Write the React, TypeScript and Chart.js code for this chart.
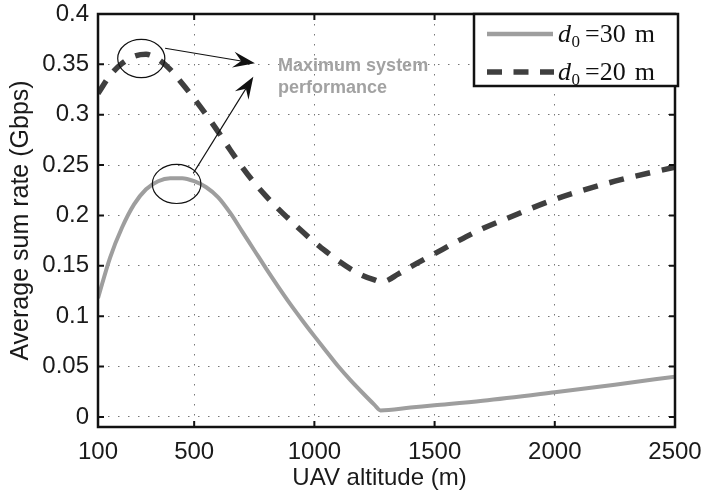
import React, { useEffect, useRef } from 'react';
import { Chart, registerables } from 'chart.js';

Chart.register(...registerables);

// ---- data ----
const altitudes30 = [100, 150, 200, 250, 300, 350, 400, 450, 500, 550, 600, 650, 700, 750, 800, 850, 900, 950, 1000, 1050, 1100, 1150, 1200, 1250, 1275, 1400, 1500, 1700, 2000, 2250, 2500];
const rate30 = [0.118, 0.158, 0.188, 0.211, 0.226, 0.234, 0.237, 0.237, 0.234, 0.228, 0.218, 0.2025, 0.184, 0.1655, 0.147, 0.1292, 0.112, 0.0958, 0.0802, 0.065, 0.050, 0.0365, 0.024, 0.012, 0.0065, 0.0093, 0.0115, 0.016, 0.0245, 0.032, 0.040];

const altitudes20 = [100, 150, 200, 250, 300, 350, 400, 450, 500, 550, 600, 650, 700, 750, 800, 850, 900, 950, 1000, 1050, 1100, 1150, 1200, 1250, 1280, 1350, 1400, 1500, 1600, 1700, 1800, 2000, 2250, 2500];
const rate20 = [0.321, 0.339, 0.351, 0.358, 0.360, 0.355, 0.345, 0.331, 0.316, 0.300, 0.283, 0.265, 0.248, 0.2325, 0.219, 0.2065, 0.195, 0.184, 0.1735, 0.164, 0.155, 0.147, 0.1405, 0.136, 0.134, 0.142, 0.149, 0.162, 0.175, 0.187, 0.197, 0.216, 0.234, 0.248];

const xTicks = [100, 500, 1000, 1500, 2000, 2500];
const yTicks = [0, 0.05, 0.1, 0.15, 0.2, 0.25, 0.3, 0.35, 0.4];

const seriesLabels = ['30', '20'];
const xTitle = 'UAV altitude (m)';
const yTitle = 'Average sum rate (Gbps)';
const noteLines = ['Maximum system', 'performance'];

// annotation anchors in data space
const ellipseCenters = [[280, 0.3558], [427, 0.2313]];
const ellipseRadii = [[98, 0.019], [101, 0.0194]];
const arrowStarts = [[379, 0.366], [496, 0.2418]];
const arrowEnds = [[753, 0.351], [746, 0.3377]];
const noteAnchor = [849, 0.3433];

const GRAY = '#9e9e9e';
const DARK = '#3f3f3f';
const NOTE = '#a2a2a2';
const SANS = '"Liberation Sans", Arial, Helvetica, sans-serif';
const SERIF = '"Liberation Serif", "Times New Roman", serif';

function drawArrow(ctx: CanvasRenderingContext2D, x1: number, y1: number, x2: number, y2: number) {
  const ang = Math.atan2(y2 - y1, x2 - x1);
  const c = Math.cos(ang), s = Math.sin(ang);
  const L = 22, W = 8, N = 14;
  ctx.beginPath();
  ctx.moveTo(x1, y1);
  ctx.lineTo(x2 - N * c, y2 - N * s);
  ctx.stroke();
  ctx.beginPath();
  ctx.moveTo(x2, y2);
  ctx.lineTo(x2 - L * c - W * s, y2 - L * s + W * c);
  ctx.lineTo(x2 - N * c, y2 - N * s);
  ctx.lineTo(x2 - L * c + W * s, y2 - L * s - W * c);
  ctx.closePath();
  ctx.fill();
}

const decor = {
  id: 'decor',
  afterDraw(chart: any) {
    const { ctx, chartArea: a } = chart;
    const xs = chart.scales.x, ys = chart.scales.y;
    ctx.save();

    // ellipses
    ctx.strokeStyle = '#111';
    ctx.lineWidth = 1.2;
    ellipseCenters.forEach((c, i) => {
      const cx = xs.getPixelForValue(c[0]);
      const cy = ys.getPixelForValue(c[1]);
      const rx = Math.abs(xs.getPixelForValue(c[0] + ellipseRadii[i][0]) - cx);
      const ry = Math.abs(ys.getPixelForValue(c[1] + ellipseRadii[i][1]) - cy);
      ctx.beginPath();
      ctx.ellipse(cx, cy, rx, ry, 0, 0, Math.PI * 2);
      ctx.stroke();
    });

    // arrows
    ctx.fillStyle = '#111';
    ctx.lineWidth = 1.1;
    arrowStarts.forEach((p, i) => {
      drawArrow(ctx,
        xs.getPixelForValue(p[0]), ys.getPixelForValue(p[1]),
        xs.getPixelForValue(arrowEnds[i][0]), ys.getPixelForValue(arrowEnds[i][1]));
    });

    // note text
    ctx.fillStyle = NOTE;
    ctx.font = `bold 18px ${SANS}`;
    ctx.textAlign = 'left';
    ctx.textBaseline = 'alphabetic';
    const nx = xs.getPixelForValue(noteAnchor[0]);
    const ny = ys.getPixelForValue(noteAnchor[1]);
    noteLines.forEach((t, i) => ctx.fillText(t, nx, ny + i * 22));

    // frame
    ctx.strokeStyle = '#111';
    ctx.lineWidth = 2.5;
    ctx.strokeRect(a.left, a.top, a.right - a.left, a.bottom - a.top);

    // inward ticks
    ctx.lineWidth = 2;
    ctx.beginPath();
    xTicks.forEach((v) => {
      const px = xs.getPixelForValue(v);
      ctx.moveTo(px, a.bottom); ctx.lineTo(px, a.bottom - 6);
      ctx.moveTo(px, a.top); ctx.lineTo(px, a.top + 6);
    });
    yTicks.forEach((v) => {
      const py = ys.getPixelForValue(v);
      ctx.moveTo(a.left, py); ctx.lineTo(a.left + 6, py);
      ctx.moveTo(a.right, py); ctx.lineTo(a.right - 6, py);
    });
    ctx.stroke();

    // legend
    const lx = a.right - 201, ly = a.top, lw = 204, lh = 72;
    ctx.fillStyle = '#fff';
    ctx.fillRect(lx, ly, lw, lh);
    ctx.strokeStyle = '#111';
    ctx.lineWidth = 2.5;
    ctx.strokeRect(lx, ly, lw, lh);
    const rows = [ly + 20, ly + 58];
    ctx.lineCap = 'butt';
    ctx.strokeStyle = GRAY; ctx.lineWidth = 4.5; ctx.setLineDash([]);
    ctx.beginPath(); ctx.moveTo(lx + 13, rows[0]); ctx.lineTo(lx + 79, rows[0]); ctx.stroke();
    ctx.strokeStyle = DARK; ctx.lineWidth = 5.5; ctx.setLineDash([15, 11.5]);
    ctx.beginPath(); ctx.moveTo(lx + 13, rows[1]); ctx.lineTo(lx + 80, rows[1]); ctx.stroke();
    ctx.setLineDash([]);
    ctx.fillStyle = '#111';
    rows.forEach((ry, i) => {
      const base = ry + 8;
      let tx = lx + 84;
      ctx.font = `italic 26px ${SERIF}`;
      ctx.fillText('d', tx, base);
      tx += ctx.measureText('d').width + 0.5;
      ctx.font = `17px ${SERIF}`;
      ctx.fillText('0', tx, base + 5);
      tx += ctx.measureText('0').width + 5;
      ctx.font = `26px ${SERIF}`;
      ctx.fillText('=' + seriesLabels[i], tx, base);
      tx += ctx.measureText('=' + seriesLabels[i]).width + 9;
      ctx.fillText('m', tx, base);
    });

    // axis titles
    ctx.fillStyle = '#1a1a1a';
    ctx.font = `24px ${SANS}`;
    ctx.textAlign = 'center';
    ctx.textBaseline = 'alphabetic';
    ctx.fillText(xTitle, (a.left + a.right) / 2 - 7, 485);
    ctx.save();
    ctx.translate(28, (a.top + a.bottom) / 2);
    ctx.rotate(-Math.PI / 2);
    ctx.font = `25px ${SANS}`;
    ctx.fillText(yTitle, 0, 0);
    ctx.restore();

    ctx.restore();
  },
};

export default function App() {
  const ref = useRef<HTMLCanvasElement | null>(null);
  useEffect(() => {
    document.body.style.margin = '0';
    const canvas = ref.current;
    if (!canvas) return;
    const chart = new Chart(canvas, {
      type: 'line',
      data: {
        datasets: [
          {
            label: 'd0 = 30 m',
            data: altitudes30.map((x, i) => ({ x, y: rate30[i] })),
            borderColor: GRAY,
            borderWidth: 4,
            pointRadius: 0,
            cubicInterpolationMode: 'monotone',
            fill: false,
            borderJoinStyle: 'round',
          },
          {
            label: 'd0 = 20 m',
            data: altitudes20.map((x, i) => ({ x, y: rate20[i] })),
            borderColor: DARK,
            borderWidth: 5.5,
            borderDash: [15, 12],
            borderCapStyle: 'butt',
            pointRadius: 0,
            cubicInterpolationMode: 'monotone',
            fill: false,
          },
        ],
      } as any,
      options: {
        animation: false,
        responsive: false,
        events: [],
        layout: { padding: { top: 14, right: 26, left: 0, bottom: 0 } },
        plugins: { legend: { display: false }, tooltip: { enabled: false } },
        scales: {
          x: {
            type: 'linear',
            min: 100,
            max: 2500,
            afterBuildTicks: (s: any) => { s.ticks = xTicks.map((v) => ({ value: v })); },
            afterFit: (s: any) => { s.height = 70; s.paddingLeft = 0; s.paddingRight = 0; },
            ticks: {
              autoSkip: false,
              maxRotation: 0,
              padding: 11,
              color: '#1a1a1a',
              font: { family: SANS, size: 24 },
              callback: (v: any) => String(v),
            },
            grid: { color: '#777', lineWidth: 1, drawTicks: false },
            border: { display: false, dash: [1.5, 8.5] },
          },
          y: {
            type: 'linear',
            min: -0.01,
            max: 0.4,
            afterBuildTicks: (s: any) => { s.ticks = yTicks.map((v) => ({ value: v })); },
            afterFit: (s: any) => { s.width = 98; s.paddingTop = 0; s.paddingBottom = 0; },
            ticks: {
              autoSkip: false,
              padding: 9,
              color: '#1a1a1a',
              font: { family: SANS, size: 24 },
              callback: (v: any) => String(v),
            },
            grid: { color: '#777', lineWidth: 1, drawTicks: false },
            border: { display: false, dash: [1.5, 8.5] },
          },
        },
      } as any,
      plugins: [decor],
    });
    return () => chart.destroy();
  }, []);
  return (
    <div style={{ position: 'fixed', left: 0, top: 0, width: 701, height: 497, background: '#fff' }}>
      <canvas ref={ref} width={701} height={497} style={{ display: 'block' }} />
    </div>
  );
}
